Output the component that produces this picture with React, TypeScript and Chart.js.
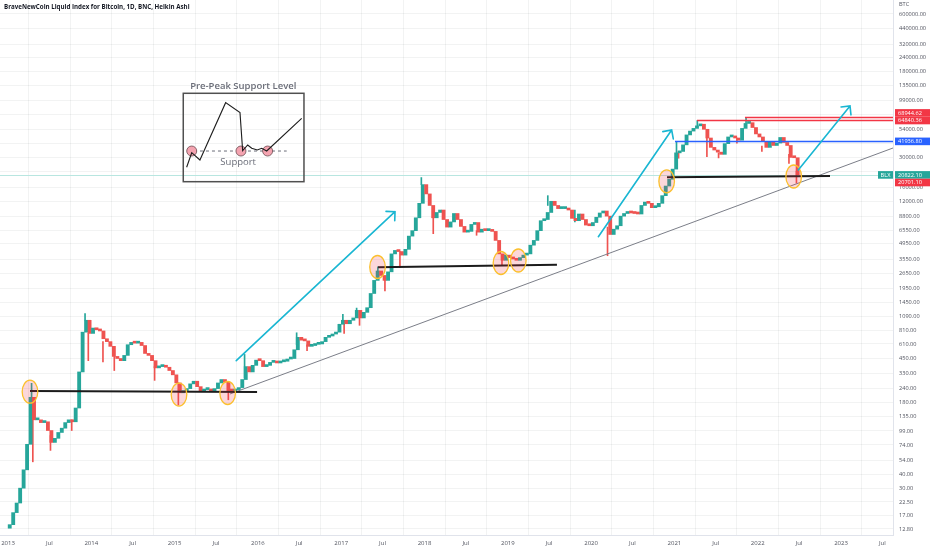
import React, { useEffect, useRef } from "react";
import { Chart, registerables } from "chart.js";
Chart.register(...registerables);

// ---------- DATA ----------
const titleText = "BraveNewCoin Liquid Index for Bitcoin, 1D, BNC, Heikin Ashi";
const startYear = 2013;
const firstOpen = 13;
// semi-monthly closes
const closes2013 = [14, 18, 22, 30, 44, 75, 200, 125, 125, 118, 120, 100, 78, 85, 96, 105, 118, 125, 120, 160, 340, 780, 1000, 760];
const closes2014 = [850, 820, 800, 680, 640, 580, 470, 450, 430, 480, 600, 630, 620, 630, 590, 500, 480, 430, 370, 380, 385, 375, 350, 320];
const closes2015 = [270, 220, 230, 240, 265, 280, 250, 228, 235, 238, 228, 240, 270, 290, 275, 230, 228, 235, 245, 290, 380, 340, 390, 435];
const closes2016 = [430, 380, 390, 415, 420, 410, 420, 425, 445, 450, 540, 700, 660, 650, 580, 590, 605, 610, 640, 700, 720, 750, 780, 920];
const closes2017 = [1000, 930, 1000, 1050, 1230, 1050, 1180, 1300, 1750, 2300, 2800, 2550, 2300, 2750, 4000, 4300, 4200, 3900, 4400, 5800, 6500, 8500, 11500, 17000];
const closes2018 = [14000, 11000, 8500, 9500, 10000, 8200, 7000, 7800, 9300, 8200, 7100, 6300, 6400, 7400, 7700, 6300, 6700, 6500, 6500, 6400, 5300, 4000, 3500, 3900];
const closes2019 = [3700, 3600, 3500, 3700, 3900, 4000, 4800, 5300, 6500, 8000, 8200, 9500, 12000, 11000, 10300, 10300, 10300, 10000, 8400, 8000, 9200, 8200, 7300, 7200];
const closes2020 = [7700, 8600, 9400, 9800, 8800, 6000, 6700, 7200, 8800, 9300, 9500, 9400, 9300, 9200, 11000, 11800, 11500, 10500, 10700, 11500, 13500, 16500, 19000, 23500];
const closes2021 = [33000, 34000, 39000, 48000, 52000, 55000, 58000, 60000, 54000, 45000, 37000, 35000, 33500, 32000, 40000, 46000, 47000, 45000, 43000, 55000, 61000, 62000, 56000, 49000];
const closes2022 = [46000, 42000, 37000, 42000, 38500, 40500, 45500, 41000, 38500, 30000, 29800, 20822];

// notable wicks (time, low, high)
const spikeTimes = [2013.283, 2013.298, 2013.51, 2013.765, 2013.925, 2013.964, 2014.14, 2014.276, 2014.76, 2015.045, 2015.645, 2015.84, 2016.465, 2016.59, 2017.02, 2017.035, 2017.185, 2017.22, 2017.44, 2017.525, 2017.705, 2017.962, 2018.105, 2018.625, 2018.93, 2019.48, 2019.805, 2020.197, 2021.025, 2021.05, 2021.275, 2021.39, 2021.53, 2021.75, 2021.86, 2022.05, 2022.375, 2022.465];
const spikeLows = [200, 52, 66, 100, 1000, 430, 420, 350, 285, 170, 190, 300, 600, 530, 1000, 760, 1150, 900, 2600, 1850, 3000, 17000, 6100, 5900, 3200, 11000, 7800, 3850, 33000, 29500, 58000, 30500, 29700, 40500, 61000, 34000, 26500, 17600];
const spikeHighs = [268, 200, 90, 125, 1150, 760, 640, 470, 380, 270, 250, 490, 770, 600, 1130, 1000, 1290, 1050, 3050, 2300, 4200, 19700, 8500, 6500, 3800, 13500, 10000, 7000, 41500, 34000, 64800, 45000, 33000, 45000, 68900, 38000, 32000, 22500];

// y axis ticks
const priceTicks = [600000, 440000, 320000, 240000, 180000, 135000, 99000, 74000, 54000, 40000, 30000, 22500, 16000, 12000, 8800, 6550, 4950, 3550, 2650, 1950, 1450, 1090, 810, 610, 450, 330, 240, 180, 135, 99, 74, 54, 40, 30, 22.5, 17, 12.8];
const hiddenTickLabels = [74000, 40000, 22500];
const yMin = 11.28;
const yMax = 803500;
// x axis
const xMin = 2012.904;
const xMax = 2023.624;
const tickYears = [2013, 2014, 2015, 2016, 2017, 2018, 2019, 2020, 2021, 2022, 2023];
const julOffset = 0.496;

// annotations (time, price)
const ellipseTimes = [2013.264, 2015.053, 2015.637, 2017.436, 2018.918, 2019.126, 2020.907, 2022.432];
const ellipsePrices = [225, 212, 219, 3042, 3307, 3485, 18220, 20140];
const supportStartT = [2013.264, 2017.442, 2020.911];
const supportStartP = [228, 3020, 19810];
const supportEndT = [2015.99, 2019.59, 2022.868];
const supportEndP = [224, 3190, 20350];
const trendStart = [2015.665, 214.5];
const trendEnd = [2023.624, 36520];
const arrowStartT = [2015.74, 2020.087, 2022.487];
const arrowStartP = [430, 5728, 23070];
const arrowEndT = [2017.646, 2020.967, 2023.108];
const arrowEndP = [9656, 53190, 87800];
const levelPrices = [68944.62, 64840.36, 41936.8];
const levelStartT = [2021.847, 2021.271, 2021.007];
const levelColors = ["#f23645", "#f23645", "#2962ff"];
const lastPrice = 20822.1;
const secondPrice = 20701.1;
const symbolTag = "BLX";
const currencyText = "BTC";

// inset schematic
const insetCorners = [2015.104, 114500, 2016.553, 18070];
const insetTitle = "Pre-Peak Support Level";
const insetLabel = "Support";
const insetPathX = [0.028, 0.07, 0.138, 0.351, 0.47, 0.492, 0.534, 0.567, 0.613, 0.65, 0.691, 0.981];
const insetPathY = [0.837, 0.672, 0.755, 0.106, 0.219, 0.649, 0.585, 0.622, 0.641, 0.622, 0.653, 0.283];
const insetDashY = 0.653;
const insetDashX = [0.039, 0.857];
const insetCircleX = [0.07, 0.478, 0.699];

// ---------- DERIVED ----------
const closes = [...closes2013, ...closes2014, ...closes2015, ...closes2016, ...closes2017, ...closes2018, ...closes2019, ...closes2020, ...closes2021, ...closes2022];
const candleTimes = closes.map((_, k) => startYear + (k + 0.5) / 24);
const opens = closes.map((_, k) => (k === 0 ? firstOpen : closes[k - 1]));
const candleData = closes.map((c, k) => ({ x: candleTimes[k], y: [opens[k], c] }));
const spikeData = spikeTimes.map((t, i) => ({ x: t, y: [spikeLows[i], spikeHighs[i]] }));

const GREEN = "#26a69a";
const RED = "#ef5350";

function spikeColor(i: number) {
  const t = spikeTimes[i];
  let best = 0;
  for (let k = 0; k < candleTimes.length; k++) {
    if (Math.abs(candleTimes[k] - t) < Math.abs(candleTimes[best] - t)) best = k;
  }
  const top = Math.max(opens[best], closes[best]);
  const bot = Math.min(opens[best], closes[best]);
  const up = Math.log(spikeHighs[i] / top);
  const down = Math.log(bot / spikeLows[i]);
  return up > down ? GREEN : RED;
}

const annotPlugin = {
  id: "annot",
  beforeDatasetsDraw(chart: any) {
    const { ctx, chartArea: a, scales } = chart;
    const y = scales.y;
    ctx.save();
    const py = Math.round(y.getPixelForValue(lastPrice)) + 0.5;
    ctx.strokeStyle = "#b8e6e0";
    ctx.lineWidth = 1;
    ctx.beginPath();
    ctx.moveTo(a.left, py);
    ctx.lineTo(a.right, py);
    ctx.stroke();
    ctx.restore();
  },
  afterDatasetsDraw(chart: any) {
    const { ctx, chartArea: a, scales } = chart;
    const x = scales.x, y = scales.y;
    const X = (t: number) => x.getPixelForValue(t);
    const Y = (p: number) => y.getPixelForValue(p);
    ctx.save();
    ctx.beginPath();
    ctx.rect(a.left, a.top, a.right - a.left, a.bottom - a.top);
    ctx.clip();

    // horizontal levels
    levelPrices.forEach((p, i) => {
      ctx.strokeStyle = levelColors[i];
      ctx.lineWidth = 1.5;
      ctx.beginPath();
      ctx.moveTo(X(levelStartT[i]), Y(p));
      ctx.lineTo(a.right, Y(p));
      ctx.stroke();
    });

    // trend line
    ctx.strokeStyle = "#7b7e88";
    ctx.lineWidth = 1;
    ctx.beginPath();
    ctx.moveTo(X(trendStart[0]), Y(trendStart[1]));
    ctx.lineTo(X(trendEnd[0]), Y(trendEnd[1]));
    ctx.stroke();

    // support lines
    ctx.strokeStyle = "#1b1b1b";
    ctx.lineWidth = 2;
    supportStartT.forEach((t, i) => {
      ctx.beginPath();
      ctx.moveTo(X(t), Y(supportStartP[i]));
      ctx.lineTo(X(supportEndT[i]), Y(supportEndP[i]));
      ctx.stroke();
    });

    // ellipses
    ellipseTimes.forEach((t, i) => {
      ctx.beginPath();
      ctx.ellipse(X(t), Y(ellipsePrices[i]), 7.8, 11.5, 0, 0, Math.PI * 2);
      ctx.fillStyle = "rgba(242, 54, 69, 0.2)";
      ctx.fill();
      ctx.strokeStyle = "#fbc02d";
      ctx.lineWidth = 1.3;
      ctx.stroke();
    });

    // arrows
    ctx.strokeStyle = "#19b6d2";
    ctx.lineWidth = 1.6;
    ctx.lineCap = "round";
    arrowStartT.forEach((t, i) => {
      const x0 = X(t), y0 = Y(arrowStartP[i]);
      const x1 = X(arrowEndT[i]), y1 = Y(arrowEndP[i]);
      ctx.beginPath();
      ctx.moveTo(x0, y0);
      ctx.lineTo(x1, y1);
      const ang = Math.atan2(y0 - y1, x0 - x1);
      const L = 9;
      ctx.moveTo(x1 + L * Math.cos(ang - Math.PI / 4), y1 + L * Math.sin(ang - Math.PI / 4));
      ctx.lineTo(x1, y1);
      ctx.lineTo(x1 + L * Math.cos(ang + Math.PI / 4), y1 + L * Math.sin(ang + Math.PI / 4));
      ctx.stroke();
    });
    ctx.lineCap = "butt";
    ctx.restore();

    // inset schematic
    ctx.save();
    const bx0 = X(insetCorners[0]), by0 = Y(insetCorners[1]);
    const bx1 = X(insetCorners[2]), by1 = Y(insetCorners[3]);
    const bw = bx1 - bx0, bh = by1 - by0;
    const IX = (f: number) => bx0 + f * bw;
    const IY = (f: number) => by0 + f * bh;
    ctx.strokeStyle = "#505050";
    ctx.lineWidth = 1.5;
    ctx.strokeRect(bx0, by0, bw, bh);
    ctx.fillStyle = "#6a6d78";
    ctx.font = "600 9.5px 'Open Sans', sans-serif";
    ctx.textAlign = "center";
    ctx.textBaseline = "middle";
    ctx.fillText(insetTitle, IX(0.497), by0 - 6.5);
    // dashed support
    ctx.setLineDash([3, 3]);
    ctx.strokeStyle = "#6a6d78";
    ctx.lineWidth = 1;
    ctx.beginPath();
    ctx.moveTo(IX(insetDashX[0]), IY(insetDashY));
    ctx.lineTo(IX(insetDashX[1]), IY(insetDashY));
    ctx.stroke();
    ctx.setLineDash([]);
    // circles
    insetCircleX.forEach((f) => {
      ctx.beginPath();
      ctx.arc(IX(f), IY(insetDashY), 5, 0, Math.PI * 2);
      ctx.fillStyle = "#f4a3b0";
      ctx.fill();
      ctx.strokeStyle = "#6b4b50";
      ctx.lineWidth = 0.8;
      ctx.stroke();
    });
    // path
    ctx.strokeStyle = "#1e1e1e";
    ctx.lineWidth = 1.1;
    ctx.beginPath();
    insetPathX.forEach((f, i) => {
      if (i === 0) ctx.moveTo(IX(f), IY(insetPathY[i]));
      else ctx.lineTo(IX(f), IY(insetPathY[i]));
    });
    ctx.stroke();
    ctx.fillStyle = "#6a6d78";
    ctx.font = "500 9.5px 'Open Sans', sans-serif";
    ctx.fillText(insetLabel, IX(0.455), IY(0.78));
    ctx.restore();
  },
  afterDraw(chart: any) {
    const { ctx, chartArea: a, scales } = chart;
    const y = scales.y;
    ctx.save();
    // title
    ctx.fillStyle = "#131722";
    ctx.font = "bold 6.2px 'Open Sans', sans-serif";
    ctx.textAlign = "left";
    ctx.textBaseline = "middle";
    ctx.fillText(titleText, 4, 7);
    // currency
    ctx.fillStyle = "#50535e";
    ctx.font = "5.6px 'Open Sans', sans-serif";
    ctx.fillText(currencyText, a.right + 6, 4.5);

    // price labels
    const H = 7.6;
    const labels = [
      { p: lastPrice, color: GREEN, dir: 0 },
      { p: secondPrice, color: "#f23645", dir: 1 },
      { p: levelPrices[1], color: "#f23645", dir: 0 },
      { p: levelPrices[0], color: "#f23645", dir: -1 },
      { p: levelPrices[2], color: "#2962ff", dir: 0 },
    ];
    const placed: number[] = [];
    labels.forEach((l) => {
      let cy = y.getPixelForValue(l.p);
      for (const q of placed) {
        if (Math.abs(q - cy) < H) cy = l.dir >= 0 ? q + H : q - H;
      }
      placed.push(cy);
      ctx.fillStyle = l.color;
      ctx.fillRect(a.right + 2, cy - H / 2, 35, H);
      ctx.fillStyle = "#ffffff";
      ctx.font = "5.6px 'Open Sans', sans-serif";
      ctx.textAlign = "left";
      ctx.fillText(l.p.toFixed(2), a.right + 5, cy + 0.3);
      if (l.p === lastPrice) {
        ctx.fillStyle = GREEN;
        ctx.fillRect(a.right - 15, cy - H / 2, 15, H);
        ctx.fillStyle = "#ffffff";
        ctx.textAlign = "center";
        ctx.fillText(symbolTag, a.right - 7.5, cy + 0.3);
      }
    });
    ctx.restore();
  },
};

export default function App() {
  const ref = useRef<HTMLCanvasElement | null>(null);
  useEffect(() => {
    document.body.style.margin = "0";
    const canvas = ref.current;
    if (!canvas) return;
    const xTicks: number[] = [];
    tickYears.forEach((yr) => {
      xTicks.push(yr);
      xTicks.push(yr + julOffset);
    });
    const chart = new Chart(canvas, {
      type: "bar",
      data: {
        datasets: [
          {
            label: "wicks",
            data: spikeData as any,
            backgroundColor: (c: any) => spikeColor(c.dataIndex),
            barThickness: 1,
            grouped: false,
            order: 2,
          } as any,
          {
            label: "candles",
            data: candleData as any,
            backgroundColor: (c: any) => {
              const r = c.raw;
              return r && r.y[1] >= r.y[0] ? GREEN : RED;
            },
            barThickness: 3.2,
            minBarLength: 2,
            grouped: false,
            order: 1,
          } as any,
        ],
      },
      options: {
        animation: false,
        responsive: false,
        maintainAspectRatio: false,
        layout: { padding: 0, autoPadding: false },
        plugins: {
          legend: { display: false },
          tooltip: { enabled: false },
          title: { display: false },
        },
        scales: {
          x: {
            type: "linear",
            min: xMin,
            max: xMax,
            offset: false,
            afterBuildTicks: (s: any) => {
              s.ticks = xTicks.filter((v) => v >= xMin && v <= xMax).map((v) => ({ value: v }));
            },
            afterFit: (s: any) => {
              s.height = 15;
              s.paddingLeft = 0;
              s.paddingRight = 0;
            },
            grid: { color: "rgba(42,46,57,0.06)", drawTicks: false },
            border: { color: "#e0e3eb" },
            ticks: {
              autoSkip: false,
              maxRotation: 0,
              padding: 5,
              color: "#50535e",
              font: { size: 6, family: "'Open Sans', sans-serif" },
              callback: (v: any) => {
                const n = Number(v);
                return Math.abs(n - Math.round(n)) < 1e-6 ? String(Math.round(n)) : "Jul";
              },
            },
          },
          y: {
            type: "logarithmic",
            position: "right",
            min: yMin,
            max: yMax,
            afterBuildTicks: (s: any) => {
              s.ticks = priceTicks.map((v) => ({ value: v }));
            },
            afterFit: (s: any) => {
              s.width = 39;
              s.paddingTop = 0;
              s.paddingBottom = 0;
            },
            grid: { color: "rgba(42,46,57,0.06)", drawTicks: false },
            border: { color: "#e0e3eb" },
            ticks: {
              autoSkip: false,
              padding: 6,
              color: "#50535e",
              font: { size: 5.6, family: "'Open Sans', sans-serif" },
              callback: (v: any) => (hiddenTickLabels.includes(Number(v)) ? "" : Number(v).toFixed(2)),
            },
          },
        },
      } as any,
      plugins: [annotPlugin],
    });
    return () => chart.destroy();
  }, []);
  return (
    <div style={{ position: "fixed", left: 0, top: 0, width: 932, height: 550, background: "#ffffff" }}>
      <canvas ref={ref} width={932} height={550} style={{ display: "block" }} />
    </div>
  );
}
